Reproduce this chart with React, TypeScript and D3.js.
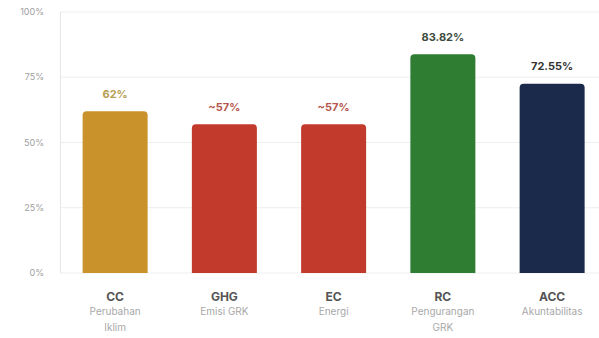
import React from "react";
import * as d3 from "d3";

const categories = ["CC", "GHG", "EC", "RC", "ACC"];
const subLabels = [["Perubahan", "Iklim"], ["Emisi GRK"], ["Energi"], ["Pengurangan", "GRK"], ["Akuntabilitas"]];
const values = [62, 57, 57, 83.82, 72.55];
const valueLabels = ["62%", "~57%", "~57%", "83.82%", "72.55%"];
const barColors = ["#c9922a", "#c23a2c", "#c23a2c", "#2e7d32", "#1b2a4a"];
const labelColors = ["#b59d52", "#b5574c", "#b5574c", "#3d4a3d", "#333333"];
const yTicks = [0, 25, 50, 75, 100];

const W = 599, H = 338;
const left = 60.5, top = 12, bottom = 273;

export default function App() {
  const xb = d3.scaleBand().domain(categories).range([left, left + 109.25 * 5]).paddingInner(0.405).paddingOuter(0.2025);
  const y = d3.scaleLinear().domain([0, 100]).range([bottom, top]);
  const font = "Inter, 'Noto Sans', sans-serif";
  const r = 4;
  return (
    <svg width={W} height={H} style={{ position: "absolute", left: 0, top: 0, background: "#fff" }}>
      {yTicks.map((t) => (
        <g key={t}>
          <line x1={left} x2={W} y1={y(t)} y2={y(t)} stroke="#eeeeee" strokeWidth={1} />
          <text x={44} y={y(t)} dy="0.35em" textAnchor="end" fontSize={9} fill="#a0a0a0" fontFamily={font}>{t}%</text>
        </g>
      ))}
      <line x1={left} x2={left} y1={top} y2={bottom} stroke="#e6e6e6" />
      {categories.map((c, i) => {
        const bx = xb(c)!;
        const bw = xb.bandwidth();
        const by = y(values[i]);
        const path = `M${bx},${bottom} V${by + r} Q${bx},${by} ${bx + r},${by} H${bx + bw - r} Q${bx + bw},${by} ${bx + bw},${by + r} V${bottom} Z`;
        const cx = bx + bw / 2;
        return (
          <g key={c}>
            <path d={path} fill={barColors[i]} />
            <text x={cx} y={by - 17} dy="0.35em" textAnchor="middle" fontSize={11} fontWeight={700} fill={labelColors[i]} fontFamily={font}>{valueLabels[i]}</text>
            <text x={cx} y={297} dy="0.35em" textAnchor="middle" fontSize={12} fontWeight={700} fill="#555" fontFamily={font}>{c}</text>
            {subLabels[i].map((s, j) => (
              <text key={j} x={cx} y={311 + j * 16} dy="0.35em" textAnchor="middle" fontSize={10} fill="#a8a8a8" fontFamily={font}>{s}</text>
            ))}
          </g>
        );
      })}
    </svg>
  );
}
